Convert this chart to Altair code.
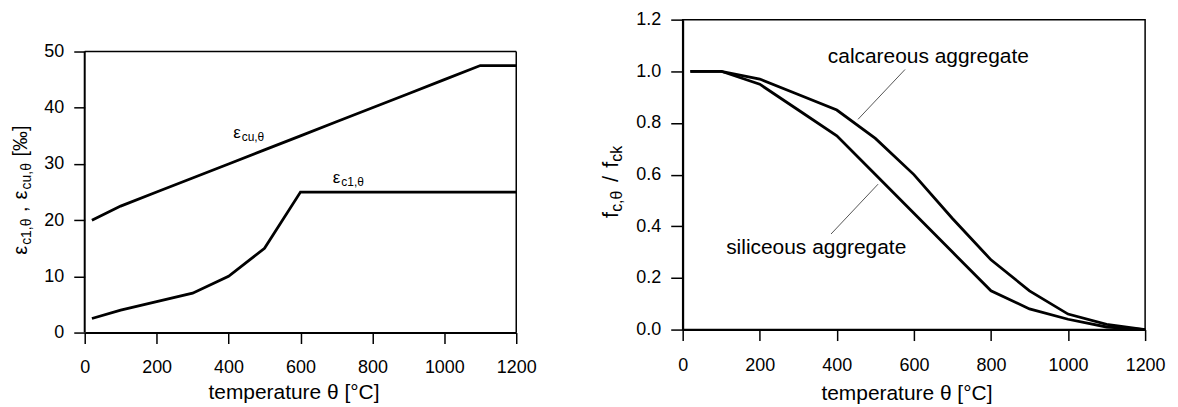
import altair as alt
import pandas as pd

FONT = "Liberation Sans"

# Temperatures (°C) at which the material values are tabulated
temps = [20, 100, 200, 300, 400, 500, 600, 700, 800, 900, 1000, 1100, 1200]

# Strain at peak stress and ultimate strain (per mille)
eps_c1 = [2.5, 4.0, 5.5, 7.0, 10.0, 15.0, 25.0, 25.0, 25.0, 25.0, 25.0, 25.0, 25.0]
eps_cu = [20.0, 22.5, 25.0, 27.5, 30.0, 32.5, 35.0, 37.5, 40.0, 42.5, 45.0, 47.5, 47.5]

# Compressive strength reduction f_c,θ / f_ck
f_siliceous = [1.00, 1.00, 0.95, 0.85, 0.75, 0.60, 0.45, 0.30, 0.15, 0.08, 0.04, 0.01, 0.00]
f_calcareous = [1.00, 1.00, 0.97, 0.91, 0.85, 0.74, 0.60, 0.43, 0.27, 0.15, 0.06, 0.02, 0.00]

# Leader lines for the curve labels: (θ, f) start and end
leader_calc = [(577, 1.007), (455, 0.814)]
leader_sil = [(385, 0.370), (507, 0.563)]

x_ticks = list(range(0, 1201, 100))
y_ticks_left = list(range(0, 51, 5))
y_ticks_right = [round(i * 0.1, 1) for i in range(13)]

df_left = pd.DataFrame({
    "temp": temps * 2,
    "value": eps_c1 + eps_cu,
    "curve": ["c1"] * len(temps) + ["cu"] * len(temps),
})
df_right = pd.DataFrame({
    "temp": temps * 2,
    "value": f_siliceous + f_calcareous,
    "curve": ["siliceous"] * len(temps) + ["calcareous"] * len(temps),
})

# panel geometry: the strain panel is shorter than the strength panel but both
# share the same bottom; its plot area is drawn inside a taller view
LEFT_W, LEFT_PLOT_H, LEFT_VIEW_H = 433, 282, 314
RIGHT_W, RIGHT_H = 464, 311
EPS_MAX = 50
eps_view_top = EPS_MAX * LEFT_VIEW_H / LEFT_PLOT_H
DY = LEFT_VIEW_H - LEFT_PLOT_H

# approximate advance widths (em) used to chain sub-/normal-size text runs
ADV = {"ε": 0.5, "θ": 0.6, "c": 0.5, "u": 0.556, "1": 0.556, ",": 0.278,
       "[": 0.278, "]": 0.278, "‰": 1.0, "f": 0.278, "/": 0.278, "k": 0.5}


def text(s, x, y, size, angle=0, align="left", color="black"):
    return alt.Chart(alt.Data(values=[{}])).mark_text(
        text=s, fontSize=size, font=FONT, angle=angle, align=align,
        baseline="alphabetic", color=color,
    ).encode(x=alt.value(x), y=alt.value(y))


def run(pieces, x0, y0, angle=0):
    """Chain text pieces (text, size, baseline shift); a bare number is a gap in px."""
    layers = []
    pos = 0.0
    for p in pieces:
        if isinstance(p, (int, float)):
            pos += p
            continue
        s, size, shift = p
        w = sum(ADV.get(ch, 0.55) for ch in s) * size
        if angle == 0:
            layers.append(text(s, x0 + pos, y0 + shift, size))
        else:
            layers.append(text(s, x0 + shift, y0 - pos, size, angle=angle))
        pos += w
    return layers


def corner(x, y):
    # invisible zero-length rule that fixes the extent of a panel
    return alt.Chart(alt.Data(values=[{}])).mark_rule(opacity=0).encode(
        x=alt.value(x), y=alt.value(y), x2=alt.value(x), y2=alt.value(y))


def frame_rule(x, y, x2, y2, width):
    return alt.Chart(alt.Data(values=[{}])).mark_rule(color="black", strokeWidth=width).encode(
        x=alt.datum(x), y=alt.datum(y), x2=alt.datum(x2), y2=alt.datum(y2))


def leader(pts):
    return alt.Chart(alt.Data(values=[{}])).mark_rule(color="#555555", strokeWidth=1).encode(
        x=alt.datum(pts[0][0]), y=alt.datum(pts[0][1]),
        x2=alt.datum(pts[1][0]), y2=alt.datum(pts[1][1]))


axis_common = dict(
    grid=False, domainColor="black", domainWidth=2, tickColor="black", tickWidth=1.5,
    labelColor="black", labelFont=FONT, labelFontSize=18, labelOverlap=False,
    titleFont=FONT, titleFontSize=21, titleFontWeight="normal", titleColor="black",
)


def x_axis(title_x, title_y, pad):
    return alt.Axis(
        values=x_ticks, format="d", labelFlush=False,
        labelExpr="datum.value % 200 ? '' : datum.label",
        tickSize={"condition": {"test": "datum.value % 200 != 0", "value": 6}, "value": 11},
        labelPadding=pad,
        title="temperature θ [°C]", titleX=title_x, titleY=title_y,
        titleAlign="center", titleBaseline="alphabetic",
        **axis_common)


y_axis_left = alt.Axis(
    values=y_ticks_left, format="d", title=None, labelPadding=10, domain=False,
    labelExpr="datum.value % 10 ? '' : datum.label",
    tickSize={"condition": {"test": "datum.value % 10 != 0", "value": 7}, "value": 11},
    **axis_common)

y_axis_right = alt.Axis(
    values=y_ticks_right, format=".1f", title=None, labelPadding=10,
    labelExpr="round(datum.value * 10) % 2 ? '' : datum.label",
    tickSize={"condition": {"test": "round(datum.value * 10) % 2 != 0", "value": 7}, "value": 12},
    **axis_common)

x_scale = alt.Scale(domain=[0, 1200], nice=False, zero=False)

left_lines = alt.Chart(df_left).mark_line(color="black", strokeWidth=2.8).encode(
    x=alt.X("temp:Q", scale=x_scale, axis=x_axis(209.5, 66, 15)),
    y=alt.Y("value:Q", scale=alt.Scale(domain=[0, eps_view_top], nice=False), axis=y_axis_left),
    detail="curve:N",
)

right_lines = alt.Chart(df_right).mark_line(color="black", strokeWidth=2.8).encode(
    x=alt.X("temp:Q", scale=x_scale, axis=x_axis(224.5, 70, 16)),
    y=alt.Y("value:Q", scale=alt.Scale(domain=[0, 1.2], nice=False), axis=y_axis_right),
    detail="curve:N",
)

left_layers = [
    corner(-84, -18), corner(506, 389), left_lines,
    frame_rule(0, 0, 0, EPS_MAX, 2),             # y axis line
    frame_rule(0, EPS_MAX, 1200, EPS_MAX, 1.5),  # top of frame
    frame_rule(1200, 0, 1200, EPS_MAX, 1.5),     # right of frame
]
left_layers += run([("ε", 17, 0), ("cu,θ", 12, 3)], 149, 87 + DY)
left_layers += run([("ε", 17, 0), ("c1,θ", 12, 3)], 249, 132 + DY)
left_layers += run([("ε", 20, 0), ("c1,θ", 14, 4), 6, (",", 20, 0), 7, ("ε", 20, 0),
                    ("cu,θ", 14, 4), 6, ("[‰]", 20, 0)], -58, 204 + DY, angle=270)
left = alt.layer(*left_layers).properties(
    width=LEFT_W, height=LEFT_VIEW_H, view=alt.ViewBackground(stroke="transparent"))

right_layers = [corner(-92, -18), corner(496, 389),
                leader(leader_calc), leader(leader_sil), right_lines,
                text("calcareous aggregate", 246.5, 44, 21, align="center"),
                text("siliceous aggregate", 134, 235, 21, align="center")]
right_layers += run([("f", 22, 0), ("c,θ", 16, 4), 8, ("/", 22, 0), 8, ("f", 22, 0),
                     ("ck", 16, 4)], -65, 199, angle=270)
right = alt.layer(*right_layers).properties(width=RIGHT_W, height=RIGHT_H)

chart = alt.hconcat(left, right, spacing=0).properties(
    padding=0, background="white"
).configure_view(stroke="black", strokeWidth=1.5)

chart.save("out.html", embed_options={"renderer": "svg", "actions": False})
